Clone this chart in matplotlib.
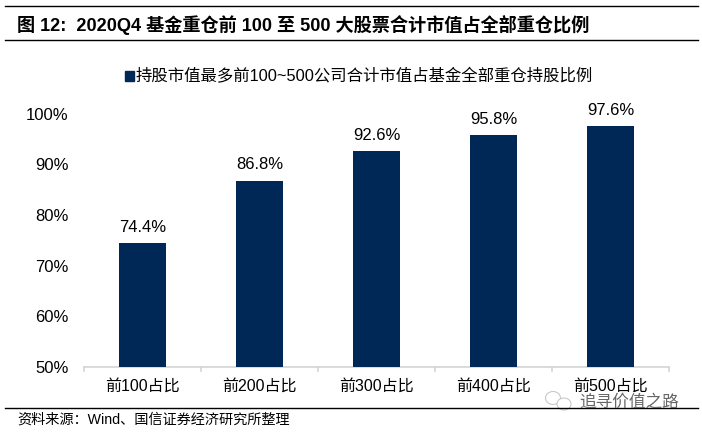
import matplotlib
matplotlib.use("Agg")
import matplotlib.pyplot as plt
from matplotlib.lines import Line2D
from matplotlib.patches import Rectangle, Ellipse

plt.rcParams['font.family'] = ['Liberation Sans', 'Noto Sans CJK SC', 'DejaVu Sans']

categories = ['前100占比', '前200占比', '前300占比', '前400占比', '前500占比']
values = [74.4, 86.8, 92.6, 95.8, 97.6]
value_labels = ['74.4%', '86.8%', '92.6%', '95.8%', '97.6%']
yticks = [50, 60, 70, 80, 90, 100]
ytick_labels = ['50%', '60%', '70%', '80%', '90%', '100%']
series_name = '持股市值最多前100~500公司合计市值占基金全部重仓持股比例'
title = '图 12:  2020Q4 基金重仓前 100 至 500 大股票合计市值占全部重仓比例'
source = '资料来源:Wind、国信证券经济研究所整理'.replace(':', '\uff1a')
watermark = '追寻价值之路'

W, H = 702, 433
navy = '#002856'
grey = '#d4d4d4'

fig = plt.figure(figsize=(W / 100, H / 100), dpi=100)
ax = fig.add_axes([84 / W, 1 - 366.7 / H, 585 / W, (366.7 - 113.8) / H])
ax.bar(range(len(values)), values, width=0.4, color=navy, zorder=3)
ax.set_xlim(-0.5, 4.5)
ax.set_ylim(50, 100)
ax.set_yticks(yticks, ytick_labels, fontsize=12)
ax.set_xticks(range(len(categories)), categories, fontsize=11.5)
ax.tick_params(axis='y', length=0, pad=11)
ax.tick_params(axis='x', length=0, pad=9)
for s in ['top', 'right', 'left']:
    ax.spines[s].set_visible(False)
ax.spines['bottom'].set_color(grey)
ax.spines['bottom'].set_linewidth(1.2)
for x in [-0.5, 0.5, 1.5, 2.5, 3.5, 4.5]:
    ax.plot([x, x], [0, -0.018], transform=ax.get_xaxis_transform(),
            color=grey, lw=1.2, clip_on=False)
for i, (v, t) in enumerate(zip(values, value_labels)):
    ax.annotate(t, (i, v), xytext=(0, 8), textcoords='offset points',
                ha='center', fontsize=12)


def hline(y):
    fig.add_artist(Line2D([5 / W, 698 / W], [1 - y / H, 1 - y / H], color='black', lw=1.0))


hline(6)
hline(40)
hline(408)
fig.text(17 / W, 1 - 24.5 / H, title, fontsize=13.1, fontweight='bold', va='center')
fig.text(136 / W, 1 - 76 / H, series_name, fontsize=11.8, va='center')
fig.add_artist(Rectangle((125 / W, 1 - 81 / H), 9 / W, 10 / H,
                         transform=fig.transFigure, color=navy))
fig.text(17 / W, 1 - 420 / H, source, fontsize=10.2, va='center')
# watermark logo outline
for cx, cy, rw, rh in [(553, 398, 15, 13), (564, 404, 14, 12)]:
    fig.add_artist(Ellipse((cx / W, 1 - cy / H), rw / W, rh / H, transform=fig.transFigure,
                           facecolor='white', edgecolor='#c8c8c8', lw=0.8))
fig.text(579 / W, 1 - 402 / H, watermark, fontsize=12, va='center', color='#666666')
fig.savefig('out.png', dpi=100)
